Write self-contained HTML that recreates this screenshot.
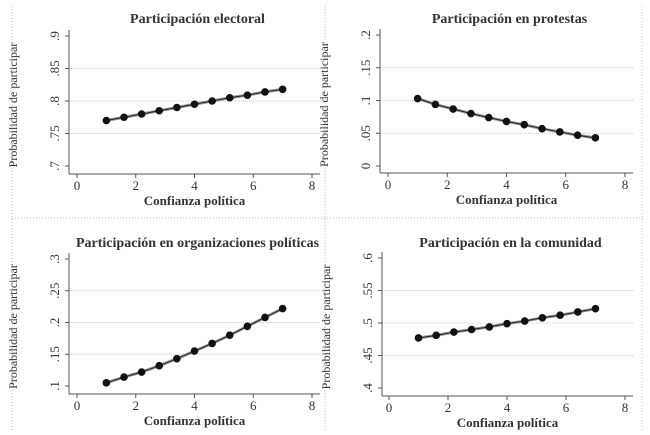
<!DOCTYPE html>
<html><head><meta charset="utf-8">
<style>
body{margin:0;background:#fff;}
svg{display:block;font-family:"Liberation Serif",serif;}
</style></head>
<body>
<svg id="c" width="650" height="435" xmlns="http://www.w3.org/2000/svg"></svg>
<script>
const xValues=[1,1.6,2.2,2.8,3.4,4,4.6,5.2,5.8,6.4,7];
const titles=["Participación electoral","Participación en protestas","Participación en organizaciones políticas","Participación en la comunidad"];
const series1=[0.770,0.775,0.780,0.785,0.790,0.795,0.800,0.805,0.809,0.814,0.818];
const series2=[0.103,0.094,0.087,0.080,0.074,0.068,0.063,0.057,0.052,0.047,0.043];
const series3=[0.105,0.114,0.122,0.132,0.143,0.155,0.167,0.180,0.194,0.208,0.222];
const series4=[0.477,0.481,0.486,0.490,0.494,0.499,0.503,0.508,0.512,0.517,0.522];
const yTicks1=[0.7,0.75,0.8,0.85,0.9];
const yLabels1=[".7",".75",".8",".85",".9"];
const yTicks2=[0,0.05,0.1,0.15,0.2];
const yLabels2=["0",".05",".1",".15",".2"];
const yTicks3=[0.1,0.15,0.2,0.25,0.3];
const yLabels3=[".1",".15",".2",".25",".3"];
const yTicks4=[0.4,0.45,0.5,0.55,0.6];
const yLabels4=[".4",".45",".5",".55",".6"];
const xTicks=[0,2,4,6,8];

const svg=document.getElementById('c');
const NS="http://www.w3.org/2000/svg";
function mk(tag,attrs,parent){const e=document.createElementNS(NS,tag);for(const k in attrs)e.setAttribute(k,attrs[k]);(parent||svg).appendChild(e);return e;}

let d;
d=mk('line',{x1:12,y1:6,x2:12,y2:432,stroke:'#bbb','stroke-dasharray':'1,2'});

d=mk('line',{x1:325,y1:6,x2:325,y2:432,stroke:'#bbb','stroke-dasharray':'1,2'});

d=mk('line',{x1:642,y1:6,x2:642,y2:432,stroke:'#ccc','stroke-dasharray':'1,2'});

d=mk('line',{x1:12,y1:218,x2:645,y2:218,stroke:'#bbb','stroke-dasharray':'1,2'});


const panels=[
 {t:titles[0],s:series1,ticks:yTicks1,labels:yLabels1,ax:69,x0:77,x8:312,right:320,yTop:36,yBot:166,axisY:174,titleY:23,name:'electoral'},
 {t:titles[1],s:series2,ticks:yTicks2,labels:yLabels2,ax:380,x0:388,x8:625,right:633,yTop:35,yBot:166,axisY:173,titleY:23,name:'protestas'},
 {t:titles[2],s:series3,ticks:yTicks3,labels:yLabels3,ax:69,x0:77,x8:312,right:320,yTop:259,yBot:386,axisY:394,titleY:247,name:'organizaciones'},
 {t:titles[3],s:series4,ticks:yTicks4,labels:yLabels4,ax:382,x0:389,x8:625,right:633,yTop:258,yBot:388,axisY:396,titleY:247,name:'comunidad'}
];
panels.forEach(p=>{
  const g=mk('g',{});
  
  
  const ymin=p.ticks[0],ymax=p.ticks[p.ticks.length-1];
  const X=v=>p.x0+(v-0)/(8-0)*(p.x8-p.x0);
  const Y=v=>p.yBot-(v-ymin)/(ymax-ymin)*(p.yBot-p.yTop);
  p.ticks.slice(1,-1).forEach(v=>{mk('line',{x1:p.ax,x2:p.right,y1:Y(v),y2:Y(v),stroke:'#cfcfcf','stroke-dasharray':'1,1'},g);});
  mk('line',{x1:p.ax,x2:p.ax,y1:p.yTop-6,y2:p.axisY,stroke:'#555','stroke-width':1},g);
  mk('line',{x1:p.ax,x2:p.right,y1:p.axisY,y2:p.axisY,stroke:'#555','stroke-width':1},g);
  p.ticks.forEach((v,i)=>{
    mk('line',{x1:p.ax-4,x2:p.ax,y1:Y(v),y2:Y(v),stroke:'#555'},g);
    const t=mk('text',{x:0,y:0,transform:`translate(${p.ax-10},${Y(v)}) rotate(-90)`,'text-anchor':'middle','font-size':13,fill:'#333'},g);
    t.textContent=p.labels[i];
    
  });
  xTicks.forEach(v=>{
    mk('line',{x1:X(v),x2:X(v),y1:p.axisY,y2:p.axisY+4,stroke:'#555'},g);
    const t=mk('text',{x:X(v),y:p.axisY+16,'text-anchor':'middle','font-size':13,fill:'#333'},g);
    t.textContent=v;
    
  });
  const tt=mk('text',{x:(p.ax+p.right)/2+3,y:p.titleY,'text-anchor':'middle','font-size':14,'font-weight':'bold',fill:'#333'},g);
  tt.textContent=p.t;
  
  const xt=mk('text',{x:(p.ax+p.right)/2,y:p.axisY+31,'text-anchor':'middle','font-size':13,'font-weight':'bold',fill:'#333'},g);
  xt.textContent='Confianza política';
  
  const yt=mk('text',{x:0,y:0,transform:`translate(${p.ax-52},${(p.yTop+p.yBot)/2+4}) rotate(-90)`,'text-anchor':'middle','font-size':12,fill:'#333'},g);
  yt.textContent='Probabilidad de participar';
  
  const pts=xValues.map((x,i)=>X(x)+','+Y(p.s[i])).join(' ');
  const ln=mk('polyline',{points:pts,fill:'none',stroke:'#999','stroke-width':3},g);
  
  mk('polyline',{points:pts,fill:'none',stroke:'#222','stroke-width':1},g);
  xValues.forEach((x,i)=>{
    const c=mk('circle',{cx:X(x),cy:Y(p.s[i]),r:3.8,fill:'#111'},g);
    
  });
});
</script>
</body></html>
